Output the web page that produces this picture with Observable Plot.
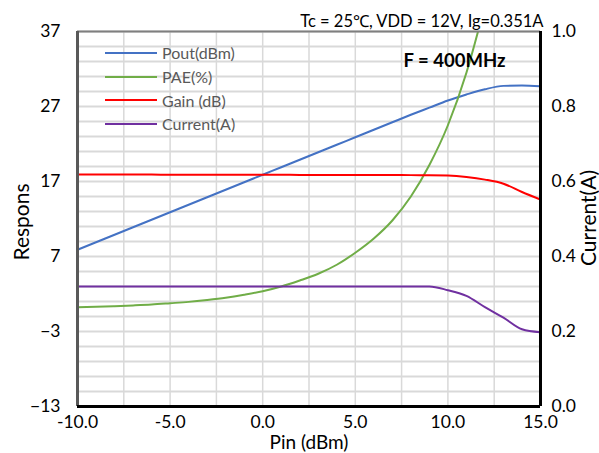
<!DOCTYPE html>
<html><head><meta charset="utf-8">
<script src="https://cdn.jsdelivr.net/npm/d3@7"></script>
<script src="https://cdn.jsdelivr.net/npm/@observablehq/plot@0.6"></script>
<style>
body{margin:0;background:#fff;font-family:Lato,"Open Sans",sans-serif;}
#wrap{position:relative;width:599px;height:453px;}
#legend{position:absolute;left:105px;top:41px;font:16px Lato,sans-serif;color:#595959;}
#legend .row{display:flex;align-items:center;height:23.7px;}
#legend .sw{width:52px;height:2px;margin-right:5px;}
</style></head>
<body><div id="wrap"><div id="legend"></div></div>
<script>
const pin = [-10,-9,-8,-7,-6,-5,-4,-3,-2,-1,0,1,2,3,4,5,6,7,8,9,10,11,12,13,14,15];
const pout = [7.9,8.9,9.9,10.9,11.9,12.9,13.9,14.9,15.9,16.9,17.9,18.9,19.9,20.9,21.9,22.9,23.9,24.9,25.9,26.85,27.8,28.6,29.3,29.75,29.8,29.7];
const pae = [0.24,0.3,0.38,0.48,0.6,0.77,0.95,1.2,1.5,1.9,2.37,3.0,3.8,4.7,5.9,7.5,9.4,11.8,15.0,19.2,24.5,31.5,40.5];
const gain = [17.93,17.93,17.92,17.92,17.92,17.91,17.91,17.9,17.9,17.9,17.9,17.89,17.88,17.88,17.87,17.87,17.86,17.86,17.85,17.85,17.8,17.6,17.25,16.7,15.6,14.6];
const current = [0.32,0.32,0.32,0.32,0.32,0.32,0.32,0.32,0.32,0.32,0.32,0.32,0.32,0.32,0.32,0.32,0.32,0.32,0.32,0.32,0.31,0.295,0.265,0.237,0.206,0.198];
const xTicks = [-10,-5,0,5,10,15];
const yTicks = [-13,-3,7,17,27,37];
const yDomain = [-13,37];
const xDomain = [-10,15];
const seriesNames = ["Pout(dBm)","PAE(%)","Gain (dB)","Current(A)"];
const colors = ["#4472C4","#70AD47","#FF0000","#7030A0"];
const toLeft = c => yDomain[0] + c*(yDomain[1]-yDomain[0]);

const rows = [];
pin.forEach((p,i)=>{
  rows.push({pin:p,v:pout[i],s:seriesNames[0]});
  if (i < pae.length) rows.push({pin:p,v:pae[i],s:seriesNames[1]});
  rows.push({pin:p,v:gain[i],s:seriesNames[2]});
  rows.push({pin:p,v:toLeft(current[i]),s:seriesNames[3]});
});

const font = "Lato, 'Open Sans', sans-serif";
const chart = Plot.plot({
  width:599, height:453,
  marginLeft:77, marginRight:59, marginTop:31, marginBottom:47,
  style:{fontFamily:font, fontSize:"17px", color:"#000", background:"#fff"},
  x:{domain:xDomain},
  y:{domain:yDomain},
  color:{domain:seriesNames, range:colors},
  marks:[
    Plot.gridX(d3.range(-10,15.01,2.5),{stroke:"#d9d9d9",strokeOpacity:1,strokeWidth:1.5}),
    Plot.gridY(d3.range(-13,37.01,2),{stroke:"#d9d9d9",strokeOpacity:1,strokeWidth:2}),
    Plot.line(rows,{x:"pin",y:"v",z:"s",stroke:"s",strokeWidth:2,curve:"monotone-x",clip:true}),
    Plot.ruleY([yDomain[1]],{stroke:"#7f7f7f",strokeWidth:2}),
    Plot.ruleX([xDomain[0]],{stroke:"#595959",strokeWidth:3}),
    Plot.ruleY([yDomain[0]],{stroke:"#000",strokeWidth:3}),
    Plot.ruleX([xDomain[1]],{stroke:"#000",strokeWidth:3}),
    Plot.axisX(xTicks,{tickSize:0,tickPadding:9,tickFormat:d=>d.toFixed(1),fontSize:17.5,label:null}),
    Plot.axisY(yTicks,{anchor:"left",tickSize:0,tickPadding:17,fontSize:17.5,label:null}),
    Plot.axisY(yTicks,{anchor:"right",tickSize:0,tickPadding:11,fontSize:17.5,label:null,
      tickFormat:d=>((d-yDomain[0])/(yDomain[1]-yDomain[0])).toFixed(1)}),
    Plot.text(["Tc = 25\u2103, VDD = 12V, Ig=0.351A"],{frameAnchor:"top-right",textAnchor:"end",lineAnchor:"bottom",dy:-5,dx:3,fontSize:16.5,fill:"#000"}),
    Plot.text(["F = 400MHz"],{frameAnchor:"top-right",textAnchor:"end",lineAnchor:"middle",dy:30,dx:-35,fontSize:18.5,fontWeight:"bold",fill:"#000"}),
    Plot.text(["Respons"],{frameAnchor:"left",textAnchor:"middle",rotate:-90,dx:-55,dy:3,fontSize:21,fill:"#000"}),
    Plot.text(["Current(A)"],{frameAnchor:"right",textAnchor:"middle",rotate:-90,dx:49,dy:-1,fontSize:21,fill:"#000"}),
    Plot.text(["Pin (dBm)"],{frameAnchor:"bottom",lineAnchor:"middle",dy:36,fontSize:19,fill:"#000"})
  ]
});
const wrap = document.getElementById("wrap");
wrap.insertBefore(chart, wrap.firstChild);
const lg = document.getElementById("legend");
seriesNames.forEach((n,i)=>{
  const r = document.createElement("div"); r.className="row";
  r.innerHTML = `<div class="sw" style="background:${colors[i]}"></div><span>${n}</span>`;
  lg.appendChild(r);
});
</script></body></html>
